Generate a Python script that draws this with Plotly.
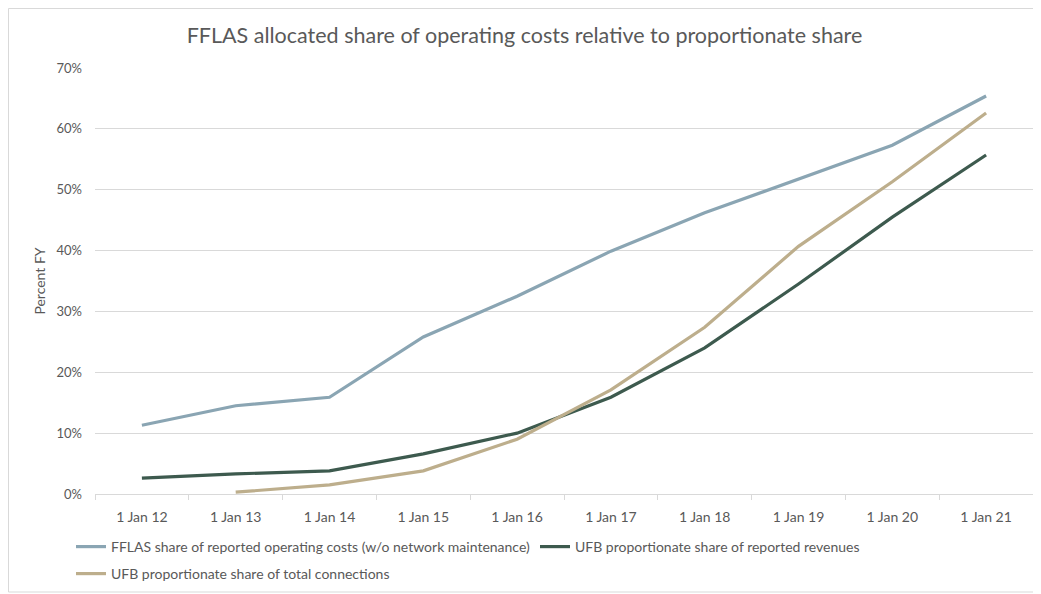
import plotly.graph_objects as go

categories = ["1 Jan 12", "1 Jan 13", "1 Jan 14", "1 Jan 15", "1 Jan 16",
              "1 Jan 17", "1 Jan 18", "1 Jan 19", "1 Jan 20", "1 Jan 21"]
fflas_opex = [11.3, 14.5, 15.9, 25.8, 32.5, 39.9, 46.2, 51.8, 57.3, 65.4]
ufb_revenues = [2.6, 3.3, 3.8, 6.6, 10.0, 15.9, 24.0, 34.5, 45.5, 55.7]
ufb_connections = [None, 0.3, 1.5, 3.8, 9.0, 17.1, 27.4, 40.7, 51.3, 62.6]
y_ticks = [0, 10, 20, 30, 40, 50, 60, 70]
y_tick_labels = ["0%", "10%", "20%", "30%", "40%", "50%", "60%", "70%"]

series = [
    ("FFLAS share of reported operating costs (w/o network maintenance)", fflas_opex, "#8AA5B3", "legend"),
    ("UFB proportionate share of reported revenues", ufb_revenues, "#3D5A4E", "legend"),
    ("UFB proportionate share of total connections", ufb_connections, "#BDAE8C", "legend2"),
]

FONT = "Lato, Open Sans, sans-serif"
# page has an 8px body margin; figure sized to fill the rest of the window
W, H = 1033, 586
L, R, T, B = 87, 8, 60, 100
pw, ph = W - L - R, H - T - B

fig = go.Figure()
for name, vals, col, lg in series:
    fig.add_trace(go.Scatter(x=categories, y=vals, name=name, mode="lines", legend=lg,
                             line=dict(color=col, width=3.2), connectgaps=False))

legend_common = dict(orientation="h", xref="container", yref="container",
                     xanchor="left", yanchor="middle", x=63 / W,
                     font=dict(size=14, color="#595959"), bgcolor="rgba(0,0,0,0)")

fig.update_layout(
    width=W, height=H,
    paper_bgcolor="white", plot_bgcolor="white",
    margin=dict(l=L, r=R, t=T, b=B, autoexpand=False),
    font=dict(family=FONT, color="#595959", size=13),
    title=dict(text="FFLAS allocated share of operating costs relative to proportionate share",
               x=0.5, xanchor="center", y=1 - 27 / H, yanchor="middle",
               font=dict(size=21.5, color="#595959", family=FONT)),
    legend=dict(**legend_common, y=1 - 539 / H),
    legend2=dict(**legend_common, y=1 - 566 / H),
    showlegend=True,
    shapes=[dict(type="rect", xref="paper", yref="paper",
                 x0=(0.5 - L) / pw, x1=(1027 - L) / pw,
                 y0=(H - B - 584) / ph, y1=(H - B - 0.5) / ph,
                 line=dict(color="#D9D9D9", width=1), layer="below")],
)
fig.update_xaxes(type="category", range=[-0.5, len(categories) - 0.5],
                 tickson="boundaries", ticks="outside", ticklen=5,
                 tickcolor="#D9D9D9", showline=True, linecolor="#D9D9D9", linewidth=1,
                 showgrid=False, tickfont=dict(size=14, color="#595959"),
                 ticklabelstandoff=10)
fig.update_yaxes(range=[0, 70], tickvals=y_ticks, ticktext=y_tick_labels,
                 showgrid=True, gridcolor="#D9D9D9", gridwidth=1, zeroline=False,
                 ticks="", ticklabelstandoff=12,
                 title=dict(text="Percent FY", font=dict(size=14, color="#595959"), standoff=7),
                 tickfont=dict(size=13, color="#595959"))

fig.write_html("out.html")
